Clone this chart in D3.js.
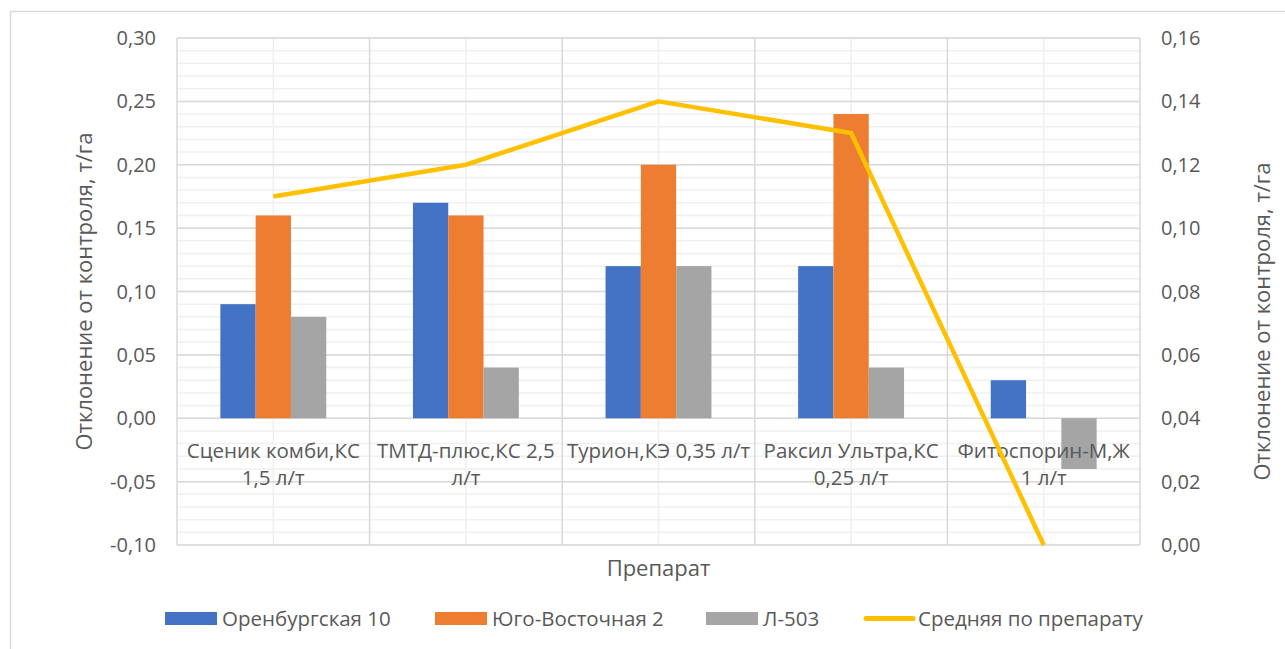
<!DOCTYPE html>
<html>
<head>
    <meta charset="utf-8" />
    <title>Отклонение от контроля</title>
    <style>
        body { margin: 0; background: #fff; }
        svg { display: block; font-family: "Open Sans", "Noto Sans", sans-serif; }
        .tick-label { fill: #595959; font-size: 20px; }
        .cat-label { fill: #595959; font-size: 20.5px; }
        .legend-label { fill: #595959; font-size: 20.5px; }
        .axis-title { fill: #595959; font-size: 22px; }
    </style>
</head>
<body>
    <svg id="chart" width="1285" height="649"></svg>
    <script src="https://unpkg.com/d3@7/dist/d3.min.js"></script>
    <script>
        // data
        var categories = [
            ["Сценик комби,КС", "1,5 л/т"],
            ["ТМТД-плюс,КС 2,5", "л/т"],
            ["Турион,КЭ 0,35 л/т"],
            ["Раксил Ультра,КС", "0,25 л/т"],
            ["Фитоспорин-М,Ж", "1 л/т"]
        ];
        var seriesNames = ["Оренбургская 10", "Юго-Восточная 2", "Л-503"];
        var orenburg = [0.09, 0.17, 0.12, 0.12, 0.03];
        var yugoVost = [0.16, 0.16, 0.20, 0.24, 0];
        var l503 = [0.08, 0.04, 0.12, 0.04, -0.04];
        var lineName = "Средняя по препарату";
        var average = [0.11, 0.12, 0.14, 0.13, 0.00];
        var leftTicks = [-0.10, -0.05, 0, 0.05, 0.10, 0.15, 0.20, 0.25, 0.30];
        var rightTicks = [0, 0.02, 0.04, 0.06, 0.08, 0.10, 0.12, 0.14, 0.16];

        var barColors = ["#4472C4", "#ED7D31", "#A5A5A5"];
        var lineColor = "#FFC000";

        var svg = d3.select("#chart");
        var plotL = 177, plotR = 1140, plotT = 38, plotB = 545;

        // chart border
        svg.append("rect")
            .attr("x", 10.5).attr("y", 11.5)
            .attr("width", 1400).attr("height", 800)
            .attr("fill", "none").attr("stroke", "#d9d9d9").attr("stroke-width", 1.5);

        var x = d3.scaleBand()
            .domain(d3.range(categories.length))
            .range([plotL, plotR]);
        var y = d3.scaleLinear().domain([-0.10, 0.30]).range([plotB, plotT]);
        var y2 = d3.scaleLinear().domain([0, 0.16]).range([plotB, plotT]);

        var fmt = function(d) { return d3.format(".2f")(d).replace(".", ",").replace("−", "-"); };

        var grid = svg.append("g");
        // minor horizontal grid
        grid.selectAll(".hminor")
            .data(d3.range(-10, 31).map(function(d) { return d / 100; }))
            .enter().append("line")
            .attr("x1", plotL).attr("x2", plotR)
            .attr("y1", function(d) { return y(d); })
            .attr("y2", function(d) { return y(d); })
            .attr("stroke", "#f0f0f0").attr("stroke-width", 1.5);
        // minor vertical grid (category centres)
        grid.selectAll(".vminor")
            .data(d3.range(categories.length))
            .enter().append("line")
            .attr("x1", function(d) { return x(d) + x.bandwidth() / 2; })
            .attr("x2", function(d) { return x(d) + x.bandwidth() / 2; })
            .attr("y1", plotT).attr("y2", plotB)
            .attr("stroke", "#f0f0f0").attr("stroke-width", 1.5);
        // major horizontal grid
        grid.selectAll(".hmajor")
            .data(leftTicks)
            .enter().append("line")
            .attr("x1", plotL).attr("x2", plotR)
            .attr("y1", function(d) { return y(d); })
            .attr("y2", function(d) { return y(d); })
            .attr("stroke", "#d9d9d9").attr("stroke-width", 1.5);
        // major vertical grid (category boundaries)
        grid.selectAll(".vmajor")
            .data(d3.range(categories.length + 1))
            .enter().append("line")
            .attr("x1", function(d) { return plotL + d * x.step(); })
            .attr("x2", function(d) { return plotL + d * x.step(); })
            .attr("y1", plotT).attr("y2", plotB)
            .attr("stroke", "#d9d9d9").attr("stroke-width", 1.5);

        // bars
        var series = [orenburg, yugoVost, l503];
        var barW = 35.3;
        series.forEach(function(vals, s) {
            svg.append("g").selectAll("rect")
                .data(vals)
                .enter().append("rect")
                .attr("x", function(d, i) { return x(i) + x.bandwidth() / 2 - 1.5 * barW + s * barW; })
                .attr("width", barW)
                .attr("y", function(d) { return y(Math.max(0, d)); })
                .attr("height", function(d) { return Math.abs(y(d) - y(0)); })
                .attr("fill", barColors[s]);
        });

        // category labels inside plot, below zero line
        var catG = svg.append("g");
        categories.forEach(function(lines, i) {
            var t = catG.append("text")
                .attr("class", "cat-label")
                .attr("text-anchor", "middle")
                .attr("x", x(i) + x.bandwidth() / 2)
                .attr("y", 458);
            lines.forEach(function(l, k) {
                t.append("tspan")
                    .attr("x", x(i) + x.bandwidth() / 2)
                    .attr("dy", k === 0 ? 0 : 27)
                    .text(l);
            });
        });

        // average line on right axis
        var line = d3.line()
            .x(function(d, i) { return x(i) + x.bandwidth() / 2; })
            .y(function(d) { return y2(d); });
        svg.append("path")
            .datum(average)
            .attr("d", line)
            .attr("fill", "none")
            .attr("stroke", lineColor)
            .attr("stroke-width", 4.5)
            .attr("stroke-linejoin", "round");

        // left axis labels
        svg.append("g").selectAll("text")
            .data(leftTicks)
            .enter().append("text")
            .attr("class", "tick-label")
            .attr("text-anchor", "end")
            .attr("x", 156)
            .attr("y", function(d) { return y(d) + 7; })
            .text(fmt);

        // right axis labels
        svg.append("g").selectAll("text")
            .data(rightTicks)
            .enter().append("text")
            .attr("class", "tick-label")
            .attr("text-anchor", "start")
            .attr("x", 1161)
            .attr("y", function(d) { return y2(d) + 7; })
            .text(fmt);

        // axis titles
        svg.append("text")
            .attr("class", "axis-title")
            .attr("text-anchor", "middle")
            .attr("transform", "translate(92," + ((plotT + plotB) / 2) + ") rotate(-90)")
            .text("Отклонение от контроля, т/га");
        svg.append("text")
            .attr("class", "axis-title")
            .attr("text-anchor", "middle")
            .attr("transform", "translate(1270," + ((plotT + plotB) / 2 + 30) + ") rotate(-90)")
            .text("Отклонение от контроля, т/га");
        svg.append("text")
            .attr("class", "axis-title")
            .attr("text-anchor", "middle")
            .attr("x", (plotL + plotR) / 2)
            .attr("y", 576)
            .text("Препарат");

        // legend
        var legend = svg.append("g");
        var legendX = [165, 435, 706];
        seriesNames.forEach(function(name, s) {
            legend.append("rect")
                .attr("x", legendX[s]).attr("y", 612)
                .attr("width", 52).attr("height", 13)
                .attr("fill", barColors[s]);
            legend.append("text")
                .attr("class", "legend-label")
                .attr("x", legendX[s] + 57).attr("y", 626)
                .text(name);
        });
        legend.append("line")
            .attr("x1", 866).attr("x2", 913)
            .attr("y1", 618.5).attr("y2", 618.5)
            .attr("stroke", lineColor).attr("stroke-width", 5)
            .attr("stroke-linecap", "round");
        legend.append("text")
            .attr("class", "legend-label")
            .attr("x", 918).attr("y", 626)
            .text(lineName);
    </script>
</body>
</html>
